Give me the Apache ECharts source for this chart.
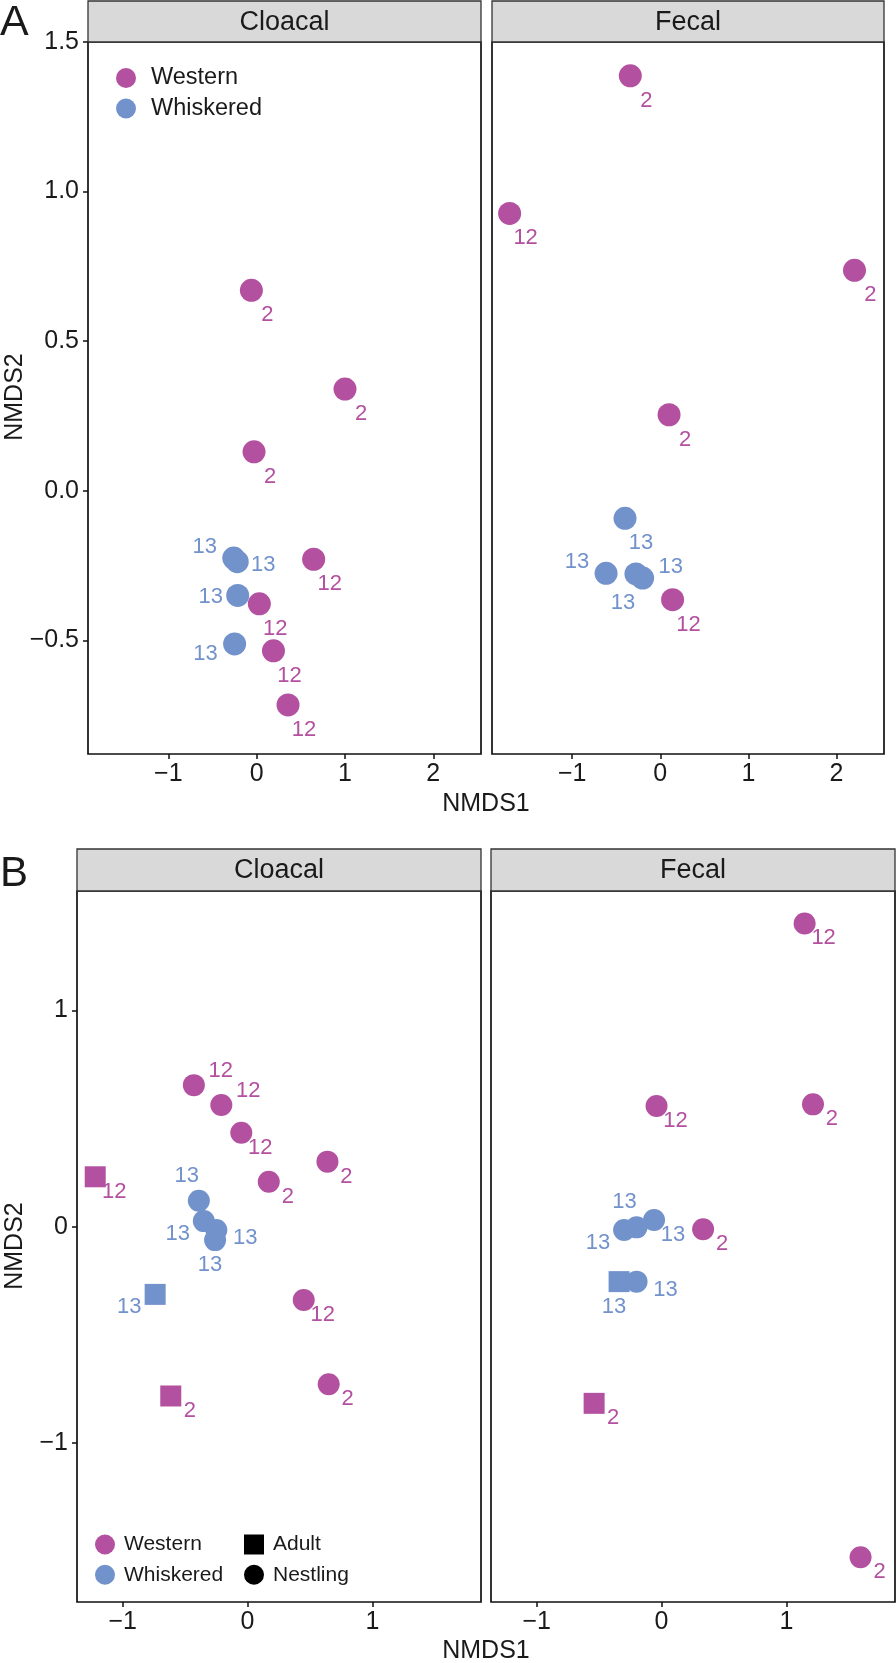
<!DOCTYPE html>
<html>
<head>
<meta charset="utf-8">
<script src="https://cdn.jsdelivr.net/npm/echarts@6/dist/echarts.min.js"></script>
<style>
  html, body { margin: 0; padding: 0; background: #fff; }
  #chart { width: 896px; height: 1663px; }
</style>
</head>
<body>
<div id="chart"></div>
<script>
// --- data -----------------------------------------------------------------
// species: W = Western, K = Whiskered ; age: A = Adult, N = Nestling
// place: where the nest label sits relative to its point (compass code)

// A / Cloacal
const aCloacalX = [-0.06, 1.00, -0.03, -0.26, -0.22, 0.645, -0.215, 0.03, -0.25, 0.19, 0.355];
const aCloacalY = [0.67, 0.34, 0.13, -0.225, -0.237, -0.229, -0.35, -0.378, -0.512, -0.535, -0.716];
const aCloacalSpecies = ['W', 'W', 'W', 'K', 'K', 'W', 'K', 'W', 'K', 'W', 'W'];
const aCloacalNest = ['2', '2', '2', '13', '13', '12', '13', '12', '13', '12', '12'];
const aCloacalPlace = ['se', 'se', 'se', 'nw', 'e', 'se', 'w', 'se', 'sw', 'se', 'se'];

// A / Fecal
const aFecalX = [-0.34, -1.71, 2.205, 0.10, -0.40, -0.615, -0.276, -0.20, 0.14];
const aFecalY = [1.387, 0.927, 0.737, 0.254, -0.092, -0.276, -0.278, -0.292, -0.364];
const aFecalSpecies = ['W', 'W', 'W', 'W', 'K', 'K', 'K', 'K', 'W'];
const aFecalNest = ['2', '12', '2', '2', '13', '13', '13', '13', '12'];
const aFecalPlace = ['se', 'se', 'se', 'se', 'se', 'nw', 's', 'ne', 'se'];

// B / Cloacal
const bCloacalX = [-0.43, -0.21, -0.05, 0.64, 0.17, -1.22, -0.39, -0.35, -0.25, -0.26, -0.74, 0.45, 0.65, -0.615];
const bCloacalY = [0.655, 0.563, 0.435, 0.301, 0.208, 0.231, 0.12, 0.026, -0.015, -0.062, -0.313, -0.339, -0.729, -0.783];
const bCloacalSpecies = ['W', 'W', 'W', 'W', 'W', 'W', 'K', 'K', 'K', 'K', 'K', 'W', 'W', 'W'];
const bCloacalAge = ['N', 'N', 'N', 'N', 'N', 'A', 'N', 'N', 'N', 'N', 'A', 'N', 'N', 'A'];
const bCloacalNest = ['12', '12', '12', '2', '2', '12', '13', '13', '13', '13', '13', '12', '2', '2'];
const bCloacalPlace = ['ne', 'ne', 'se', 'se', 'se', 'se', 'n', 'sw', 'e', 's', 'sw', 'se', 'se', 'se'];

// B / Fecal
const bFecalX = [1.146, -0.04, 1.213, -0.30, -0.20, -0.06, 0.333, -0.34, -0.20, -0.54, 1.594];
const bFecalY = [1.403, 0.558, 0.566, -0.015, -0.003, 0.031, -0.012, -0.254, -0.254, -0.817, -1.529];
const bFecalSpecies = ['W', 'W', 'W', 'K', 'K', 'K', 'W', 'K', 'K', 'W', 'W'];
const bFecalAge = ['N', 'N', 'N', 'N', 'N', 'N', 'N', 'A', 'N', 'A', 'N'];
const bFecalNest = ['12', '12', '2', '13', '13', '13', '2', '13', '13', '2', '2'];
const bFecalPlace = ['se', 'se', 'se', 'sw', 'n', 'se', 'se', 's', 'e', 'se', 'se'];

const xTicksA = [-1, 0, 1, 2];
const yTicksA = [-0.5, 0, 0.5, 1, 1.5];
const xTicksB = [-1, 0, 1];
const yTicksB = [-1, 0, 1];

// --- styling ---------------------------------------------------------------
const FONT = '"Liberation Sans", Arial, Helvetica, sans-serif';
const INK = '#1a1a1a';
const colors = { W: '#B3509F', K: '#7292CC' };
const names = { W: 'Western', K: 'Whiskered' };
const nudgeA = {
  se: [16, 25], nw: [-29, -11], ne: [28, -11], n: [-12, -24],
  e: [26, 3], w: [-27, 1], sw: [-29, 10], s: [-13, 29]
};
const nudgeB = {
  se: [19, 15], nw: [-25, -12], ne: [27, -14], n: [-12, -25],
  e: [29, 8], w: [-26, 1], sw: [-26, 13], s: [-5, 25]
};
const minus = (s) => s.replace('-', '\u2212');

const panels = [
  { x: aCloacalX, y: aCloacalY, sp: aCloacalSpecies, age: null, nest: aCloacalNest, place: aCloacalPlace, size: 23, nudge: nudgeA },
  { x: aFecalX, y: aFecalY, sp: aFecalSpecies, age: null, nest: aFecalNest, place: aFecalPlace, size: 23, nudge: nudgeA },
  { x: bCloacalX, y: bCloacalY, sp: bCloacalSpecies, age: bCloacalAge, nest: bCloacalNest, place: bCloacalPlace, size: 22, nudge: nudgeB },
  { x: bFecalX, y: bFecalY, sp: bFecalSpecies, age: bFecalAge, nest: bFecalNest, place: bFecalPlace, size: 22, nudge: nudgeB }
];

const grids = [
  { left: 88, top: 42, width: 393, height: 712 },
  { left: 492, top: 42, width: 392, height: 712 },
  { left: 77, top: 891, width: 404, height: 711 },
  { left: 491, top: 891, width: 404, height: 711 }
].map(g => Object.assign(g, {
  show: true, borderColor: '#111', borderWidth: 1.7, backgroundColor: '#fff',
  containLabel: false, outerBoundsMode: 'none'
}));

function xAxis(idx, min, max, ticks) {
  return {
    type: 'value', gridIndex: idx, min: min, max: max,
    splitLine: { show: false },
    axisLine: { show: false, onZero: false },
    axisTick: { show: true, length: 5, customValues: ticks, lineStyle: { color: '#111', width: 1.5 } },
    axisLabel: {
      show: true, customValues: ticks, margin: 8, fontSize: 25, fontFamily: FONT, color: INK,
      formatter: v => minus(String(Math.round(v)))
    }
  };
}

function yAxis(idx, min, max, ticks, digits, labels) {
  return {
    type: 'value', gridIndex: idx, min: min, max: max,
    splitLine: { show: false },
    axisLine: { show: false, onZero: false },
    axisTick: { show: labels, length: 5, customValues: ticks, lineStyle: { color: '#111', width: 1.5 } },
    axisLabel: {
      show: labels, customValues: ticks, margin: 9, fontSize: 25, fontFamily: FONT, color: INK,
      formatter: v => minus(v.toFixed(digits))
    }
  };
}

const series = [];
panels.forEach((p, idx) => {
  ['W', 'K'].forEach(code => {
    const data = [];
    p.x.forEach((xv, i) => {
      if (p.sp[i] !== code) return;
      const adult = p.age && p.age[i] === 'A';
      data.push({
        value: [xv, p.y[i]],
        nest: p.nest[i],
        symbol: adult ? 'rect' : 'circle',
        symbolSize: adult ? p.size - 1 : p.size,
        label: { offset: p.nudge[p.place[i]] }
      });
    });
    series.push({
      name: names[code],
      type: 'scatter',
      xAxisIndex: idx,
      yAxisIndex: idx,
      symbol: 'circle',
      itemStyle: { color: colors[code], opacity: 1 },
      label: {
        show: true, position: 'inside', fontSize: 22, fontFamily: FONT, color: colors[code],
        formatter: params => params.data.nest
      },
      emphasis: { disabled: true },
      data: data
    });
  });
});
// key-only series for the age legend
series.push({ name: 'Adult', type: 'scatter', xAxisIndex: 2, yAxisIndex: 2, symbol: 'rect', itemStyle: { color: '#000', opacity: 1 }, data: [] });
series.push({ name: 'Nestling', type: 'scatter', xAxisIndex: 2, yAxisIndex: 2, symbol: 'circle', itemStyle: { color: '#000', opacity: 1 }, data: [] });

const strip = (x, y, w, h, text) => ([
  { type: 'rect', shape: { x: x, y: y, width: w, height: h }, style: { fill: '#D9D9D9', stroke: '#333', lineWidth: 1.3 }, z: 5 },
  { type: 'text', x: x + w / 2, y: y + h / 2 + 1, style: { text: text, font: '27px ' + FONT, fill: INK, align: 'center', verticalAlign: 'middle' }, z: 6 }
]);

const chart = echarts.init(document.getElementById('chart'), null, { renderer: 'canvas', width: 896, height: 1663 });
chart.setOption({
  backgroundColor: '#fff',
  animation: false,
  grid: grids,
  xAxis: [
    xAxis(0, -1.91, 2.54, xTicksA),
    xAxis(1, -1.91, 2.54, xTicksA),
    xAxis(2, -1.366, 1.87, xTicksB),
    xAxis(3, -1.366, 1.87, xTicksB)
  ],
  yAxis: [
    yAxis(0, -0.88, 1.5, yTicksA, 1, true),
    yAxis(1, -0.88, 1.5, yTicksA, 1, false),
    yAxis(2, -1.736, 1.553, yTicksB, 0, true),
    yAxis(3, -1.736, 1.553, yTicksB, 0, false)
  ],
  legend: [
    {
      data: ['Western', 'Whiskered'], orient: 'vertical', left: 116, top: 66, padding: 0,
      icon: 'circle', itemWidth: 20, itemHeight: 20, itemGap: 6.5, selectedMode: false,
      textStyle: { fontSize: 23.5, fontFamily: FONT, color: INK, lineHeight: 20, padding: [0, 0, 0, 10] }
    },
    {
      data: ['Western', 'Whiskered'], orient: 'vertical', left: 95, top: 1534, padding: 0,
      icon: 'circle', itemWidth: 20, itemHeight: 20, itemGap: 9.3, selectedMode: false,
      textStyle: { fontSize: 21, fontFamily: FONT, color: INK, lineHeight: 20, padding: [0, 0, 0, 4] }
    },
    {
      data: [
        { name: 'Adult', icon: 'rect', itemStyle: { color: '#000', opacity: 1 } },
        { name: 'Nestling', icon: 'circle', itemStyle: { color: '#000', opacity: 1 } }
      ],
      orient: 'vertical', left: 244, top: 1534, padding: 0,
      itemWidth: 20, itemHeight: 20, itemGap: 9.3, selectedMode: false,
      textStyle: { fontSize: 21, fontFamily: FONT, color: INK, lineHeight: 20, padding: [0, 0, 0, 4] }
    }
  ],
  graphic: [].concat(
    strip(88, 1, 393, 41, 'Cloacal'),
    strip(492, 1, 392, 41, 'Fecal'),
    strip(77, 849, 404, 42, 'Cloacal'),
    strip(491, 849, 404, 42, 'Fecal'),
    [
      { type: 'text', x: 0, y: 23, style: { text: 'A', font: '43px ' + FONT, fill: INK, verticalAlign: 'middle' } },
      { type: 'text', x: 0, y: 874, style: { text: 'B', font: '42px ' + FONT, fill: INK, verticalAlign: 'middle' } },
      { type: 'text', x: 486, y: 804, style: { text: 'NMDS1', font: '25px ' + FONT, fill: INK, align: 'center', verticalAlign: 'middle' } },
      { type: 'text', x: 486, y: 1651, style: { text: 'NMDS1', font: '25px ' + FONT, fill: INK, align: 'center', verticalAlign: 'middle' } },
      { type: 'text', x: 15, y: 397, rotation: Math.PI / 2, style: { text: 'NMDS2', font: '25px ' + FONT, fill: INK, align: 'center', verticalAlign: 'middle' } },
      { type: 'text', x: 15, y: 1246, rotation: Math.PI / 2, style: { text: 'NMDS2', font: '25px ' + FONT, fill: INK, align: 'center', verticalAlign: 'middle' } }
    ]
  ),
  series: series
});
</script>
</body>
</html>
